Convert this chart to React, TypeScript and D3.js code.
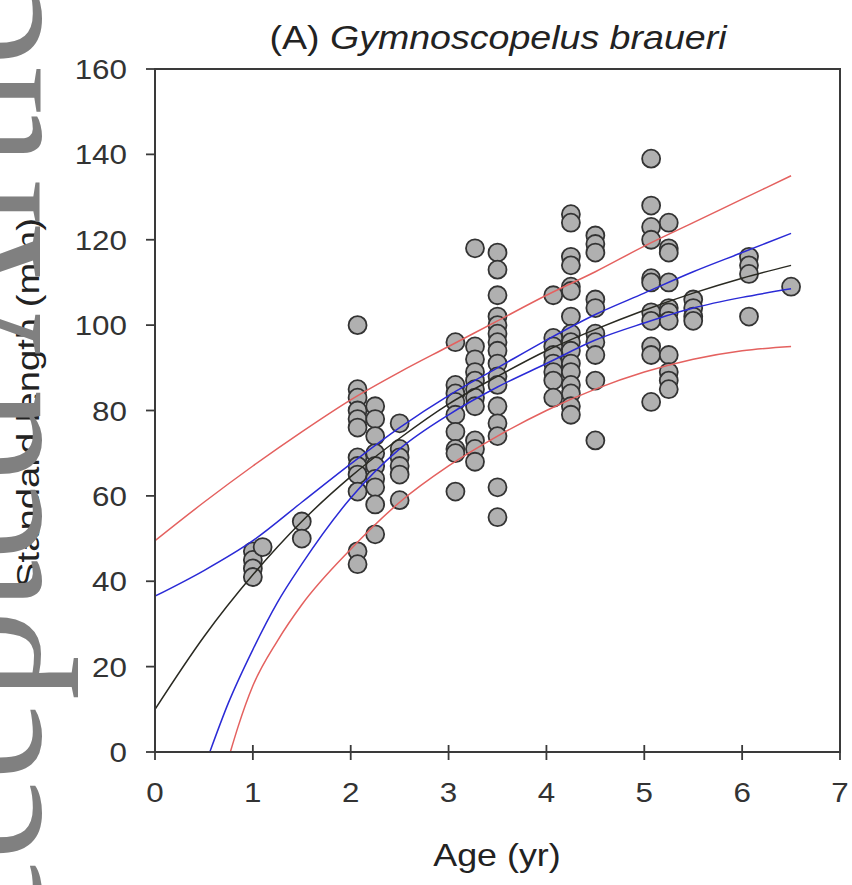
import React from "react";
import * as d3 from "d3";

// ---- data ----
const ageColumns = [1.0, 1.1, 1.5, 2.07, 2.25, 2.5, 3.07, 3.27, 3.5, 4.07, 4.25, 4.5, 5.07, 5.25, 5.5, 6.07, 6.5];
const lengthsAt = [
  [47, 45, 43, 41],
  [48],
  [54, 50],
  [100, 85, 83, 80, 78, 76, 69, 67, 65, 61, 47, 44],
  [81, 78, 74, 70, 67, 64, 62, 58, 51],
  [77, 71, 69, 67, 65, 59],
  [96, 86, 84, 82, 79, 75, 71, 70, 61],
  [118, 95, 92, 89, 87, 85, 83, 81, 73, 71, 68],
  [117, 113, 107, 102, 100, 98, 96, 94, 91, 88, 86, 81, 77, 74, 62, 55],
  [107, 97, 95, 93, 91, 89, 87, 83],
  [126, 124, 116, 114, 109, 108, 102, 98, 96, 94, 91, 89, 86, 84, 81, 79],
  [121, 119, 117, 106, 104, 98, 96, 93, 87, 73],
  [139, 128, 123, 120, 111, 110, 103, 101, 95, 93, 82],
  [124, 118, 117, 110, 104, 103, 101, 93, 89, 87, 85],
  [106, 104, 102, 101],
  [116, 114, 112, 102],
  [109],
];

const curveAges = [0, 0.5, 1, 1.5, 2, 2.5, 3, 3.5, 4, 4.5, 5, 5.5, 6, 6.5];
const fitLength = [10, 27, 41.5, 54, 64.5, 73.5, 81.5, 88, 94, 99, 103.5, 107.5, 111, 114];
const ciUpper = [36.5, 42.5, 49.5, 58.5, 67.5, 76, 83.5, 90, 96.5, 102.5, 107.5, 112.5, 117, 121.5];
const piUpper = [49.5, 58.5, 67, 75, 82.5, 89, 95, 101, 107, 112.5, 118.5, 124, 129.5, 135];
const ciLowerAges = [0.56, 0.75, 1, 1.25, 1.5, 2, 2.5, 3, 3.5, 4, 4.5, 5, 5.5, 6, 6.5];
const ciLower = [0, 11.5, 24, 35, 44, 59.5, 71, 79, 85.5, 91, 96.5, 100.5, 104, 106.5, 108.5];
const piLowerAges = [0.77, 0.85, 1, 1.25, 1.5, 2, 2.5, 3, 3.5, 4, 4.5, 5, 5.5, 6, 6.5];
const piLower = [0, 6, 15.5, 26, 34.5, 47.5, 58.5, 67, 74, 80, 85, 89, 92, 94, 95];

const xTicks = [0, 1, 2, 3, 4, 5, 6, 7];
const yTicks = [0, 20, 40, 60, 80, 100, 120, 140, 160];

const titlePrefix = "(A) ";
const titleSpecies = "Gymnoscopelus braueri";
const xLabel = "Age (yr)";
const yLabel = "Standard length (mm)";
const watermark = "Accepted Article";

export default function App() {
  const W = 852, H = 885;
  const x = d3.scaleLinear().domain([0, 7]).range([155, 840]);
  const y = d3.scaleLinear().domain([0, 160]).range([752, 69]);
  const line = d3
    .line<[number, number]>()
    .x((d) => x(d[0]))
    .y((d) => y(d[1]))
    .curve(d3.curveMonotoneX);
  const zip = (a: number[], b: number[]) => a.map((v, i) => [v, b[i]] as [number, number]);

  const points: { a: number; v: number }[] = [];
  ageColumns.forEach((a, i) => lengthsAt[i].forEach((v) => points.push({ a, v })));

  const sans = "'Liberation Sans', Arial, sans-serif";
  const tickF = 28;
  const stretch = 1.12;
  const red = "#e4615f";
  const blue = "#2a2ad6";

  return (
    <svg width={W} height={H} style={{ position: "absolute", left: 0, top: 0, background: "#fff" }}>
      <defs>
        <clipPath id="plot">
          <rect x={155} y={69} width={685} height={683} />
        </clipPath>
      </defs>
      <rect width={W} height={H} fill="#fff" />
      {/* title */}
      <text x={498} y={49} fontFamily={sans} fontSize={33} textAnchor="middle" fill="#222"
        textLength={457} lengthAdjust="spacingAndGlyphs">
        {titlePrefix}
        <tspan fontStyle="italic">{titleSpecies}</tspan>
      </text>
      {/* points */}
      <g>
        {points.map((p, i) => (
          <circle key={i} cx={x(p.a)} cy={y(p.v)} r={9} fill="#b0b0b0" stroke="#333" strokeWidth={1.8} />
        ))}
      </g>
      {/* curves */}
      <g clipPath="url(#plot)" fill="none" strokeWidth={1.5}>
        <path d={line(zip(curveAges, piUpper)) || ""} stroke={red} />
        <path d={line(zip(piLowerAges, piLower)) || ""} stroke={red} />
        <path d={line(zip(curveAges, ciUpper)) || ""} stroke={blue} />
        <path d={line(zip(ciLowerAges, ciLower)) || ""} stroke={blue} />
        <path d={line(zip(curveAges, fitLength)) || ""} stroke="#2a2a22" />
      </g>
      {/* frame */}
      <rect x={155} y={69} width={685} height={683} fill="none" stroke="#3a3a3a" strokeWidth={2} />
      {/* y axis ticks */}
      {yTicks.map((t) => (
        <g key={"y" + t}>
          <line x1={146} x2={155} y1={y(t)} y2={y(t)} stroke="#3a3a3a" strokeWidth={1.8} />
          <text x={127} y={y(t)} dy="0.36em" textAnchor="end" fontFamily={sans} fontSize={tickF} fill="#333"
            textLength={String(t).length * 0.556 * tickF * stretch} lengthAdjust="spacingAndGlyphs">
            {t}
          </text>
        </g>
      ))}
      {/* x axis ticks */}
      {xTicks.map((t) => (
        <g key={"x" + t}>
          <line x1={x(t)} x2={x(t)} y1={745} y2={760} stroke="#3a3a3a" strokeWidth={1.8} />
          <text x={x(t)} y={802} textAnchor="middle" fontFamily={sans} fontSize={tickF} fill="#333"
            textLength={String(t).length * 0.556 * tickF * stretch} lengthAdjust="spacingAndGlyphs">
            {t}
          </text>
        </g>
      ))}
      {/* axis labels */}
      <text x={497} y={866} textAnchor="middle" fontFamily={sans} fontSize={32} fill="#222"
        textLength={3.556 * 32 * stretch} lengthAdjust="spacingAndGlyphs">
        {xLabel}
      </text>
      <text transform="translate(39,403) rotate(-90)" textAnchor="middle" fontFamily={sans} fontSize={31} fill="#222"
        textLength={370} lengthAdjust="spacingAndGlyphs">
        {yLabel}
      </text>
      {/* watermark */}
      <text transform="translate(40,1070) rotate(-90)" fontFamily="'Liberation Serif', 'Times New Roman', serif"
        fontSize={180} fill="#808080">
        {watermark}
      </text>
    </svg>
  );
}
